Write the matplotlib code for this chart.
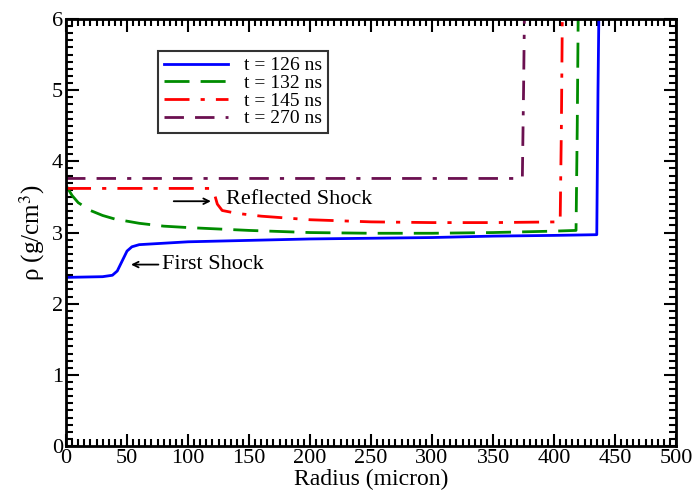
import numpy as np
import matplotlib.pyplot as plt
from matplotlib.ticker import MultipleLocator

plt.rcParams['font.family'] = ['Liberation Serif', 'DejaVu Serif']
plt.rcParams['mathtext.fontset'] = 'stix'

# t = 126 ns
r126 = [0, 30, 38, 42, 46, 50, 54, 60, 80, 100, 150, 200, 250, 300, 350, 400, 435, 436, 437]
rho126 = [2.37, 2.38, 2.40, 2.46, 2.60, 2.74, 2.80, 2.83, 2.85, 2.87, 2.89, 2.91, 2.92, 2.93, 2.95, 2.96, 2.97, 5.0, 6.5]

# t = 132 ns
r132 = [0, 5, 10, 20, 30, 40, 50, 60, 80, 100, 150, 200, 250, 300, 350, 400, 418, 419, 420]
rho132 = [3.66, 3.52, 3.42, 3.31, 3.24, 3.19, 3.16, 3.13, 3.09, 3.07, 3.03, 3.00, 2.99, 2.99, 3.00, 3.02, 3.03, 4.5, 6.5]

# t = 145 ns
r145 = [0, 118, 121, 124, 128, 140, 160, 200, 250, 300, 350, 405, 406, 407]
rho145 = [3.62, 3.62, 3.58, 3.40, 3.31, 3.27, 3.23, 3.18, 3.15, 3.14, 3.14, 3.15, 4.5, 6.5]

# t = 270 ns
r270 = [0, 100, 200, 300, 374, 375, 376]
rho270 = [3.76, 3.76, 3.76, 3.76, 3.76, 5.0, 6.5]

labels = ['t = 126 ns', 't = 132 ns', 't = 145 ns', 't = 270 ns']

fig = plt.figure(figsize=(6.92, 4.94), dpi=100)
ax = fig.add_axes([0.0954, 0.097, 0.8816, 0.8645])

ax.plot(r126, rho126, color='#0000ff', lw=2, label=labels[0])
ax.plot(r132, rho132, color='#008c00', lw=2, dashes=(9, 4), label=labels[1])
ax.plot(r145, rho145, color='#ff0000', lw=2, dashes=(9, 4, 1.5, 4), label=labels[2])
ax.plot(r270, rho270, color='#6b1050', lw=2, dashes=(7, 4, 7, 4, 1.5, 4), label=labels[3])

ax.annotate('', xy=(51, 2.55), xytext=(78, 2.55),
            arrowprops=dict(arrowstyle='->', color='black', lw=1.3))
ax.text(79, 2.55, 'First Shock', fontsize=16, va='center', ha='left')
ax.annotate('', xy=(121, 3.44), xytext=(86, 3.44),
            arrowprops=dict(arrowstyle='->', color='black', lw=1.3))
ax.text(131, 3.46, 'Reflected Shock', fontsize=16, va='center', ha='left')

ax.set_xlim(0, 500)
ax.set_ylim(0, 6)
ax.xaxis.set_major_locator(MultipleLocator(50))
ax.xaxis.set_minor_locator(MultipleLocator(5))
ax.yaxis.set_major_locator(MultipleLocator(1))
ax.yaxis.set_minor_locator(MultipleLocator(0.1))
ax.tick_params(which='both', direction='in', top=True, right=True, labelsize=16, width=1.5)
ax.tick_params(which='major', length=9, pad=2)
ax.tick_params(which='minor', length=5)
for s in ax.spines.values():
    s.set_linewidth(2)

ax.set_xlabel('Radius (micron)', fontsize=17, labelpad=1)
ax.set_ylabel('ρ (g/cm$^{3}$)', fontsize=18, labelpad=4)

leg = ax.legend(loc='upper left', bbox_to_anchor=(0.151, 0.925), fontsize=14,
                frameon=True, fancybox=False, edgecolor='black', handlelength=3.3,
                borderpad=0.3, labelspacing=0.0, handletextpad=0.8, borderaxespad=0)
leg.get_frame().set_linewidth(1.5)

fig.savefig('out.png', dpi=100)
